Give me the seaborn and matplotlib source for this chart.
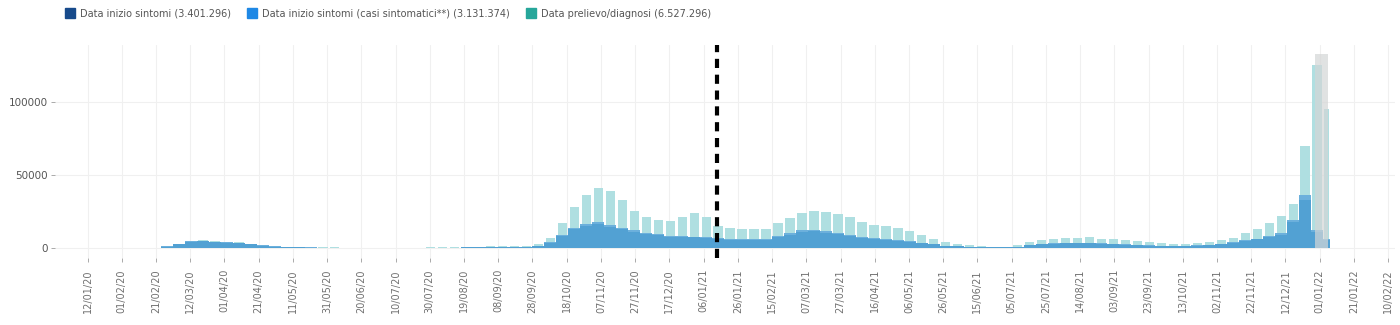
import numpy as np
import pandas as pd
import matplotlib
matplotlib.use("Agg")
import matplotlib.pyplot as plt
from matplotlib.lines import Line2D
import seaborn as sns

# ---------------- data (weekly readings from the picture) ----------------
week_start = pd.date_range("2020-02-17", periods=99, freq="7D")
data_end = pd.Timestamp("2022-01-07")

prelievo_diagnosi = [
    200, 1200, 3000, 5000, 5500, 4800, 4300, 4000, 3000, 2200,
    1400, 900, 600, 500, 400, 350, 300, 300, 250, 250,
    250, 300, 300, 350, 400, 500, 700, 1000, 1300, 1500,
    1600, 1700, 2500, 7000, 17000, 28000, 36000, 41000, 39000, 33000,
    25000, 21500, 19500, 18500, 21000, 24000, 21000, 15000, 13500, 13000,
    13000, 13000, 17000, 20500, 24000, 25500, 24500, 23000, 21000, 17500,
    16000, 15000, 13500, 11500, 9000, 6500, 4000, 2800, 2000, 1300,
    900, 1000, 2200, 4000, 5500, 6500, 6800, 7000, 7200, 6500,
    6000, 5200, 4500, 3800, 3300, 3000, 2800, 3200, 4200, 5500,
    7000, 10000, 13000, 17000, 22000, 30000, 70000, 125000, 95000,
]
inizio_sintomi = [
    200, 1100, 2800, 4600, 5000, 4300, 3800, 3500, 2600, 1800,
    1100, 700, 450, 350, 280, 240, 200, 200, 170, 170,
    170, 200, 200, 230, 260, 330, 450, 650, 800, 900,
    950, 1000, 1500, 4000, 9000, 14000, 16500, 17500, 16000, 14000,
    12000, 10500, 9500, 8500, 8200, 7800, 7600, 6800, 6200, 6000,
    6000, 6300, 8000, 10000, 12000, 12500, 11500, 10500, 9000, 7500,
    6800, 6000, 5300, 4500, 3600, 2600, 1700, 1200, 800, 550,
    400, 450, 1000, 2000, 2800, 3300, 3400, 3400, 3400, 3100,
    2800, 2400, 2100, 1800, 1600, 1500, 1500, 1800, 2300, 3000,
    4000, 5200, 6500, 8000, 10000, 19000, 36000, 12000, 6000,
]
casi_sintomatici = [
    180, 1000, 2600, 4300, 4700, 4000, 3500, 3200, 2400, 1650,
    1000, 640, 410, 320, 250, 220, 180, 180, 150, 150,
    150, 180, 180, 210, 240, 300, 410, 600, 730, 820,
    870, 920, 1380, 3700, 8300, 12900, 15200, 16100, 14700, 12900,
    11000, 9700, 8700, 7800, 7500, 7200, 7000, 6300, 5700, 5500,
    5500, 5800, 7400, 9200, 11000, 11500, 10600, 9700, 8300, 6900,
    6300, 5500, 4900, 4100, 3300, 2400, 1560, 1100, 740, 510,
    370, 410, 920, 1840, 2580, 3040, 3130, 3130, 3130, 2850,
    2580, 2200, 1930, 1660, 1470, 1380, 1380, 1660, 2120, 2760,
    3680, 4780, 5980, 7360, 9200, 17500, 33000, 11000, 5500,
]

legend_labels = [
    "Data inizio sintomi (3.401.296)",
    "Data inizio sintomi (casi sintomatici**) (3.131.374)",
    "Data prelievo/diagnosi (6.527.296)",
]
legend_colors = ["#174a8b", "#1e88e5", "#26a69a"]

marker_date = pd.Timestamp("2021-01-14")
shade_start = pd.Timestamp("2021-12-29")
shade_end = pd.Timestamp("2022-01-06")
shade_top = 133000

origin = pd.Timestamp("2020-01-12")
tick_dates = pd.date_range("2020-01-12", "2022-02-10", freq="20D")
tick_labels = [d.strftime("%d/%m/%y") for d in tick_dates]
y_ticks = [0, 50000, 100000]

# ---------------- figure ----------------
sns.set_theme(style="white")
plt.rcParams["font.family"] = ["DejaVu Sans"]

def days(d):
    return (pd.Timestamp(d) - origin).days

starts = [float(days(d)) for d in week_start]
edges = starts + [float(days(data_end))]
centers = [(a + b) / 2 for a, b in zip(edges[:-1], edges[1:])]

df = pd.DataFrame({
    "x": centers,
    "diagnosi": prelievo_diagnosi,
    "sintomi": inizio_sintomi,
    "sintomatici": casi_sintomatici,
})

fig = plt.figure(figsize=(14, 3.25), dpi=100)
ax = fig.add_axes([55 / 1400, 1 - 258 / 325, 1340 / 1400, 213 / 325])

sns.histplot(data=df, x="x", weights="diagnosi", bins=edges, shrink=0.78,
             color="#afdfe1", alpha=1, linewidth=0, ax=ax, zorder=2)
sns.histplot(data=df, x="x", weights="sintomi", bins=edges, shrink=1.0,
             color="#6cb0dc", alpha=1, linewidth=0, ax=ax, zorder=3)
sns.histplot(data=df, x="x", weights="sintomatici", bins=edges, shrink=1.0,
             color="#52a1d3", alpha=1, linewidth=0, ax=ax, zorder=4)

ax.fill_between([days(shade_start), days(shade_end)], 0, shade_top,
                color="#d4d6d6", alpha=0.7, linewidth=0, zorder=5)

ax.axvline(days(marker_date), color="black", linewidth=3,
           linestyle=(0, (2.2, 1.6)), zorder=6)

ax.set_xlim(-19, 764)
ax.set_ylim(-6850, 139000)
ax.set_xticks([days(d) for d in tick_dates])
ax.set_xticklabels(tick_labels, rotation=90, fontsize=7, color="#707070")
ax.set_yticks(y_ticks)
ax.set_yticklabels([str(v) for v in y_ticks], fontsize=7.5, color="#555555")
ax.tick_params(axis="both", which="both", length=3, width=0.7, color="#aaaaaa",
               direction="out", left=True, bottom=True)
ax.tick_params(axis="x", pad=5)
ax.tick_params(axis="y", pad=2)
ax.set_xlabel("")
ax.set_ylabel("")
ax.grid(True, color="#f0f0f0", linewidth=0.8, zorder=0)
ax.set_axisbelow(True)
for s in ax.spines.values():
    s.set_visible(False)

handles = [Line2D([0], [0], marker="s", linestyle="none", markersize=7,
                  markerfacecolor=c, markeredgecolor=c) for c in legend_colors]
fig.legend(handles, legend_labels, loc="upper left", bbox_to_anchor=(0.04, 1.0),
           ncol=3, frameon=False, fontsize=7, labelcolor="#555555",
           handletextpad=0.6, columnspacing=1.6, handlelength=1)

fig.savefig("out.png", dpi=100)
